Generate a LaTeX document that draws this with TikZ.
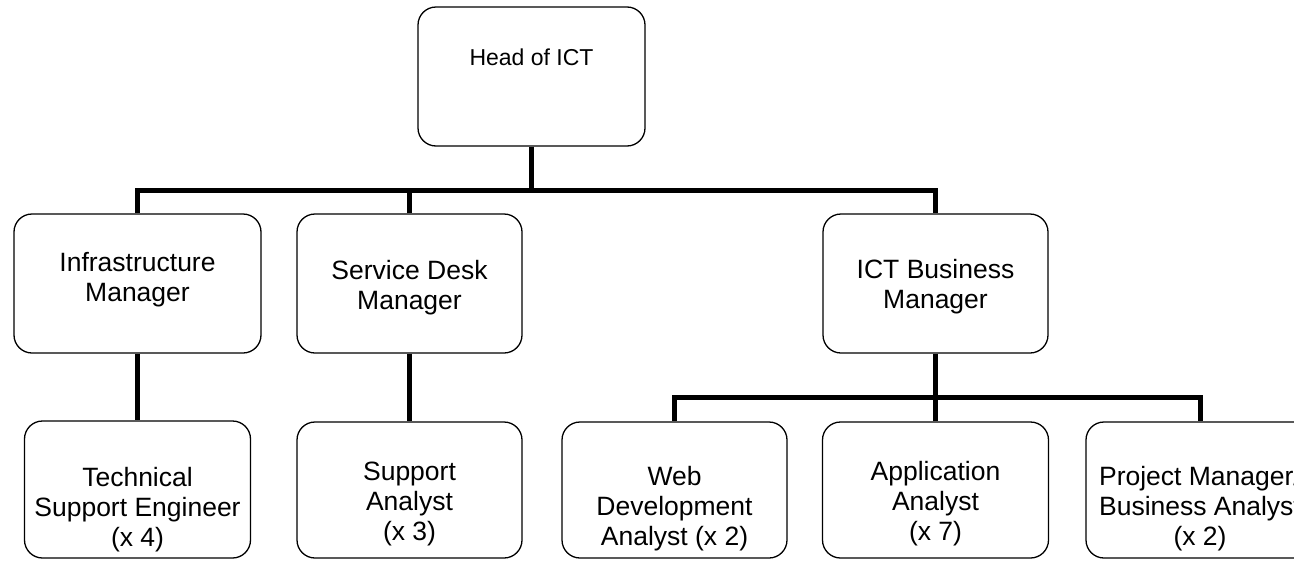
\documentclass[tikz,border=0pt]{standalone}
\usepackage{fontspec}
\setmainfont{Liberation Sans}
\begin{document}
\begin{tikzpicture}[x=1pt,y=-1pt,
  box/.style={draw, line width=1.3pt, rounded corners=18pt, inner sep=0pt, minimum height=139pt},
  lbl/.style={font=\fontsize{26.5}{30}\selectfont, align=center, anchor=base, inner sep=0pt},
  conn/.style={line width=5pt, line join=miter}]
\useasboundingbox (0,0) rectangle (1294,560);
\clip (0,0) rectangle (1294,560);
% boxes
\node[box, minimum width=227pt] (head) at (531.5,76.5) {};
\node[box, minimum width=247pt] (infra) at (137.5,283.5) {};
\node[box, minimum width=225pt] (service) at (409.5,283.5) {};
\node[box, minimum width=225pt] (ictbm) at (935.5,283.5) {};
\node[box, minimum width=226pt, minimum height=137pt] (tech) at (137.5,489.5) {};
\node[box, minimum width=225pt, minimum height=136pt] (support) at (409.5,490) {};
\node[box, minimum width=225pt, minimum height=136pt] (web) at (674.5,490) {};
\node[box, minimum width=226pt, minimum height=136pt] (app) at (935.5,490) {};
\node[box, minimum width=228pt, minimum height=136pt] (proj) at (1200,490) {};
% texts (anchor = baseline of last line)
\node[lbl, font=\fontsize{23}{27}\selectfont] (headt) at (531.5,65) {Head of ICT};
\node[lbl] (infrat) at (137.5,301) {Infrastructure\\Manager};
\node[lbl] (servicet) at (409.5,309) {Service Desk\\Manager};
\node[lbl] (ictbmt) at (935.5,308) {ICT Business\\Manager};
\node[lbl] (techt) at (137.5,546) {Technical\\Support Engineer\\(x 4)};
\node[lbl] (supportt) at (409.5,540) {Support\\Analyst\\(x 3)};
\node[lbl] (webt) at (674.5,545) {Web\\Development\\Analyst (x 2)};
\node[lbl] (appt) at (935.5,540) {Application\\Analyst\\(x 7)};
\node[lbl] (projt) at (1200,545) {Project Manager/\\Business Analyst\\(x 2)};
% connectors
\coordinate (bus1) at (531.5,190);
\coordinate (bus2) at (935.5,397);
\draw[conn] (head.south) -- (bus1);
\draw[conn] (infra.north) |- (bus1) -| (ictbm.north);
\draw[conn] (service.north) -- (service.north |- bus1);
\draw[conn] (infra.south) -- (tech.north);
\draw[conn] (service.south) -- (support.north);
\draw[conn] (ictbm.south) -- (bus2);
\draw[conn] (web.north) |- (bus2) -| (proj.north);
\draw[conn] (app.north) -- (app.north |- bus2);
\end{tikzpicture}
\end{document}
